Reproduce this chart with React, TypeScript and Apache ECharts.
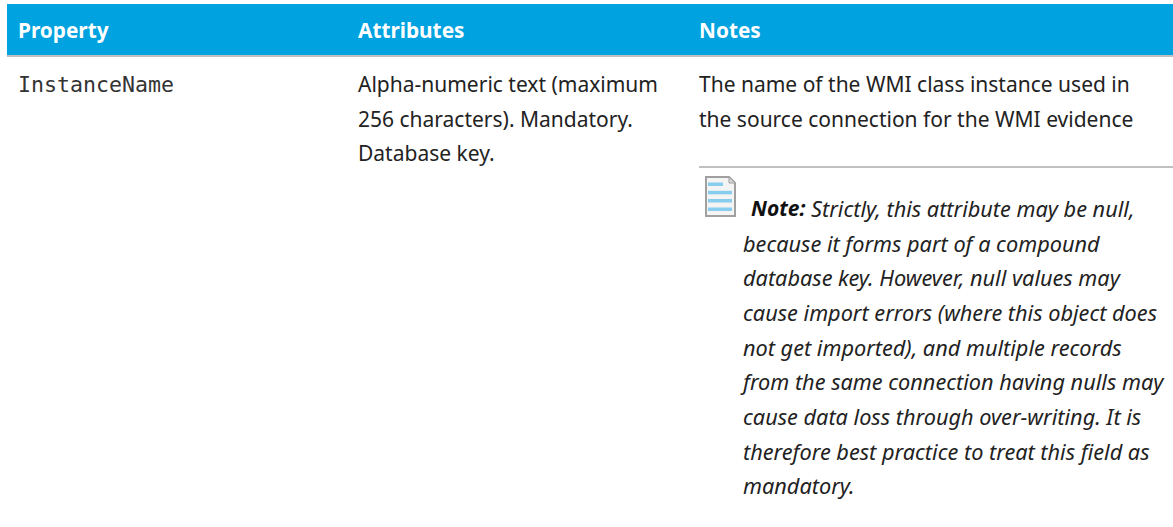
import React, { useEffect, useRef } from "react";
import * as echarts from "echarts";

const headers = ["Property", "Attributes", "Notes"];
const propertyName = "InstanceName";
const attributeLines = ["Alpha-numeric text (maximum", "256 characters). Mandatory.", "Database key."];
const notesLines = ["The name of the WMI class instance used in", "the source connection for the WMI evidence"];
const noteLabel = "Note:";
const noteFirst = "Strictly, this attribute may be null,";
const noteLines = [
  "because it forms part of a compound",
  "database key. However, null values may",
  "cause import errors (where this object does",
  "not get imported), and multiple records",
  "from the same connection having nulls may",
  "cause data loss through over-writing. It is",
  "therefore best practice to treat this field as",
  "mandatory.",
];
const sans = "'Noto Sans', 'Open Sans', sans-serif";
const mono = "'DejaVu Sans Mono', monospace";

export default function App() {
  const ref = useRef<HTMLDivElement>(null);
  useEffect(() => {
    document.body.style.margin = "0";
    const chart = echarts.init(ref.current!, null, { renderer: "svg" });
    const text = (x: number, y: number, t: string, font: string, fill = "#222222") => ({
      type: "text", x, y, style: { text: t, font, fill, textVerticalAlign: "middle" },
    });
    const body = `21px ${sans}`;
    const ital = `italic 21.7px ${sans}`;
    const head = `bold 20.8px ${sans}`;
    const els: any[] = [
      { type: "rect", shape: { x: 7, y: 4, width: 1166, height: 51 }, style: { fill: "#00a2e0" } },
      { type: "rect", shape: { x: 7, y: 55, width: 1166, height: 2 }, style: { fill: "#c0c0c0" } },
      text(18, 30, headers[0], head, "#ffffff"),
      text(358, 30, headers[1], head, "#ffffff"),
      text(699, 30, headers[2], head, "#ffffff"),
      text(18, 84, propertyName, `21.6px ${mono}`, "#333333"),
      ...attributeLines.map((l, i) => text(358, 84 + i * 34.7, l, body)),
      ...notesLines.map((l, i) => text(699, 84 + i * 34.7, l, body)),
      { type: "rect", shape: { x: 699, y: 166, width: 474, height: 2 }, style: { fill: "#c0c0c0" } },
      {
        type: "polygon",
        shape: { points: [[706, 177], [729, 177], [735, 183], [735, 216], [706, 216]] },
        style: { fill: "#f4f4f4", stroke: "#a0a0a0", lineWidth: 2 },
      },
      { type: "polygon", shape: { points: [[729, 177], [735, 183], [729, 183]] }, style: { fill: "#d8d8d8", stroke: "#a0a0a0", lineWidth: 1 } },
      { type: "rect", shape: { x: 708, y: 182.5, width: 15, height: 3.5 }, style: { fill: "#86cdee" } },
      ...[190.8, 199, 207.5].map((y) => ({
        type: "rect", shape: { x: 708, y, width: 24, height: 3.5 }, style: { fill: "#86cdee" },
      })),
      text(751, 208, noteLabel, `italic bold 21px ${sans}`, "#111111"),
      text(811, 208, noteFirst, ital),
      ...noteLines.map((l, i) => text(743, 243 + i * 34.7, l, ital)),
    ];
    chart.setOption({ animation: false, graphic: { elements: els } });
    return () => chart.dispose();
  }, []);
  return <div ref={ref} style={{ width: 1173, height: 527 }} />;
}
